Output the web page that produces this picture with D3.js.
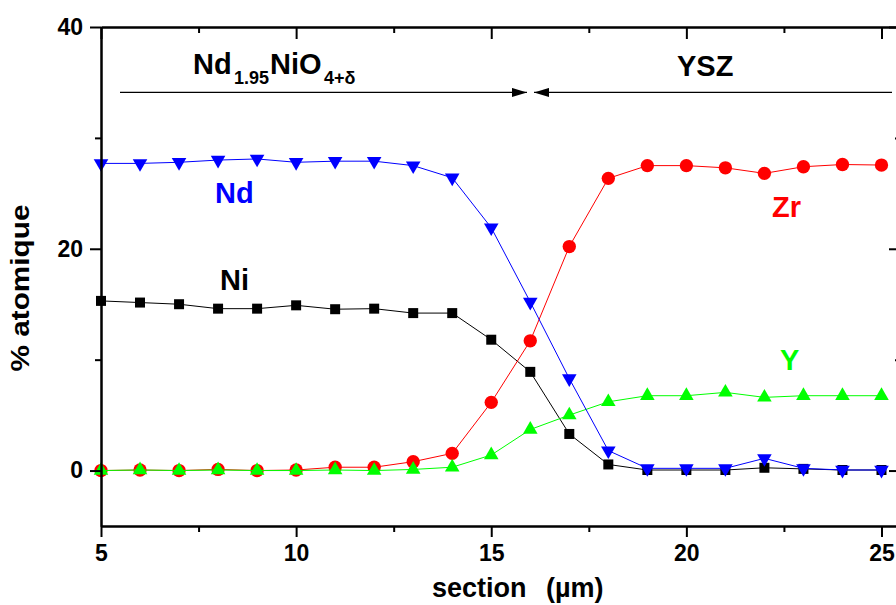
<!DOCTYPE html>
<html>
<head>
<meta charset="utf-8">
<script src="https://cdn.jsdelivr.net/npm/d3@7"></script>
<style>
html,body{margin:0;padding:0;background:#fff;}
svg{display:block;}
text{font-family:"Liberation Sans",Arial,sans-serif;font-weight:bold;}
</style>
</head>
<body>
<svg id="chart" width="896" height="605"></svg>
<script>
const sections = [5,6,7,8,9,10,11,12,13,14,15,16,17,18,19,20,21,22,23,24,25];
const Ni = [15.3,15.15,15.0,14.6,14.6,14.9,14.55,14.6,14.2,14.2,11.8,8.9,3.3,0.55,0.05,0.05,0.05,0.25,0.15,0.05,0.05];
const Zr = [0,0.05,0,0.1,0,0.05,0.3,0.3,0.8,1.55,6.15,11.7,20.2,26.35,27.5,27.5,27.3,26.8,27.4,27.6,27.55];
const Yv = [0,0.05,0,0.05,0,0,0.05,0,0.1,0.3,1.4,3.7,5.0,6.2,6.75,6.75,7.05,6.6,6.75,6.75,6.75];
const Nd = [27.7,27.7,27.8,28.0,28.1,27.8,27.9,27.9,27.5,26.4,21.9,15.2,8.3,1.8,0.2,0.2,0.2,1.1,0.2,0.05,0.05];
const xMajorTicks = [5,10,15,20,25];
const xMinorTicks = [7.5,12.5,17.5,22.5];
const yMajorTicks = [0,20,40];
const yMinorTicks = [10,30];
const xTitle = ["section", "(µm)"];
const yTitle = "% atomique";

(function(){
const svg = d3.select("#chart");
const x = d3.scaleLinear().domain([5,25.5]).range([101,901]);
const y = d3.scaleLinear().domain([-5,40]).range([526,27]);

const series = [
  {name:"Ni", values:Ni, color:"#000000", symbol:d3.symbolSquare, size:100, rot:0},
  {name:"Zr", values:Zr, color:"#ff0000", symbol:d3.symbolCircle, size:140, rot:0},
  {name:"Y",  values:Yv, color:"#00ff00", symbol:d3.symbolTriangle, size:92, rot:0},
  {name:"Nd", values:Nd, color:"#0000ff", symbol:d3.symbolTriangle, size:92, rot:180}
];

const line = d3.line().x((d,i)=>x(sections[i])).y(d=>y(d));
series.forEach(s=>{
  const g = svg.append("g");
  g.append("path").attr("d", line(s.values)).attr("fill","none")
    .attr("stroke", s.color).attr("stroke-width",1);
  g.selectAll("path.m").data(s.values).enter().append("path").attr("class","m")
    .attr("d", d3.symbol().type(s.symbol).size(s.size)())
    .attr("transform",(d,i)=>`translate(${x(sections[i])},${y(d)}) rotate(${s.rot})`)
    .attr("fill", s.color);
});

function styleAxis(g){
  g.selectAll(".domain").attr("stroke","#000").attr("stroke-width",2);
  g.selectAll(".tick line").attr("stroke","#000").attr("stroke-width",2);
  g.selectAll("text").style("font-size","23px").attr("fill","#000");
}
const gBottom = svg.append("g").attr("transform","translate(0,526)")
  .call(d3.axisBottom(x).tickValues(xMajorTicks).tickSize(11).tickSizeOuter(0).tickFormat(d3.format("d")));
styleAxis(gBottom);
gBottom.selectAll(".tick text").attr("dy","0.71em").attr("y",19);
const gBottomMinor = svg.append("g").attr("transform","translate(0,526)")
  .call(d3.axisBottom(x).tickValues(xMinorTicks).tickSize(6).tickSizeOuter(0).tickFormat(""));
styleAxis(gBottomMinor);

const gTop = svg.append("g").attr("transform","translate(0,27)")
  .call(d3.axisTop(x).tickValues(xMajorTicks).tickSize(-12).tickSizeOuter(0).tickFormat(""));
styleAxis(gTop);
const gTopMinor = svg.append("g").attr("transform","translate(0,27)")
  .call(d3.axisTop(x).tickValues(xMinorTicks).tickSize(-6).tickSizeOuter(0).tickFormat(""));
styleAxis(gTopMinor);

const gLeft = svg.append("g").attr("transform","translate(101,0)")
  .call(d3.axisLeft(y).tickValues(yMajorTicks).tickSize(11).tickSizeOuter(0).tickPadding(7).tickFormat(d3.format("d")));
styleAxis(gLeft);
const gLeftMinor = svg.append("g").attr("transform","translate(101,0)")
  .call(d3.axisLeft(y).tickValues(yMinorTicks).tickSize(6).tickSizeOuter(0).tickFormat(""));
styleAxis(gLeftMinor);

const gRight = svg.append("g").attr("transform","translate(901,0)")
  .call(d3.axisRight(y).tickValues(yMajorTicks).tickSize(-12).tickSizeOuter(0).tickFormat(""));
styleAxis(gRight);
const gRightMinor = svg.append("g").attr("transform","translate(901,0)")
  .call(d3.axisRight(y).tickValues(yMinorTicks).tickSize(-6).tickSizeOuter(0).tickFormat(""));
styleAxis(gRightMinor);

const xt = svg.append("text").attr("x",432).attr("y",597).style("font-size","27px").attr("fill","#000");
xt.append("tspan").text(xTitle[0]);
xt.append("tspan").attr("x",546).text(xTitle[1]);
svg.append("text").attr("transform","translate(29,288) rotate(-90)")
  .attr("text-anchor","middle").style("font-size","26px").attr("textLength",167)
  .attr("lengthAdjust","spacingAndGlyphs").text(yTitle);

const labels = [
  {t:"Nd", x:215, y:203, c:"#0000ff"},
  {t:"Ni", x:220, y:290, c:"#000000"},
  {t:"Zr", x:772, y:217, c:"#ff0000"},
  {t:"Y",  x:780, y:370, c:"#00ff00"}
];
labels.forEach(l=>svg.append("text").attr("x",l.x).attr("y",l.y).attr("fill",l.c)
  .style("font-size","29px").text(l.t));

const comp = svg.append("text").attr("y",74).style("font-size","29px").attr("fill","#000");
comp.append("tspan").attr("x",193).text("Nd");
comp.append("tspan").attr("x",234).attr("dy",10).style("font-size","18px").text("1.95");
comp.append("tspan").attr("x",270).attr("dy",-10).text("NiO");
comp.append("tspan").attr("x",324).attr("dy",10).style("font-size","18px").text("4+δ");
svg.append("text").attr("x",677).attr("y",76).style("font-size","29px").attr("fill","#000").text("YSZ");

const defs = svg.append("defs");
defs.append("marker").attr("id","ah").attr("viewBox","0 0 15 9").attr("refX",15).attr("refY",4.5)
  .attr("markerWidth",15).attr("markerHeight",9).attr("markerUnits","userSpaceOnUse").attr("orient","auto")
  .append("path").attr("d","M0,0 L15,4.5 L0,9 Z").attr("fill","#000");
const arrowY = y(34.1);
svg.append("line").attr("x1",120).attr("x2",527).attr("y1",arrowY).attr("y2",arrowY)
  .attr("stroke","#000").attr("stroke-width",1.3).attr("marker-end","url(#ah)");
svg.append("line").attr("x1",892).attr("x2",534).attr("y1",arrowY).attr("y2",arrowY)
  .attr("stroke","#000").attr("stroke-width",1.3).attr("marker-end","url(#ah)");
})();
</script>
</body>
</html>
